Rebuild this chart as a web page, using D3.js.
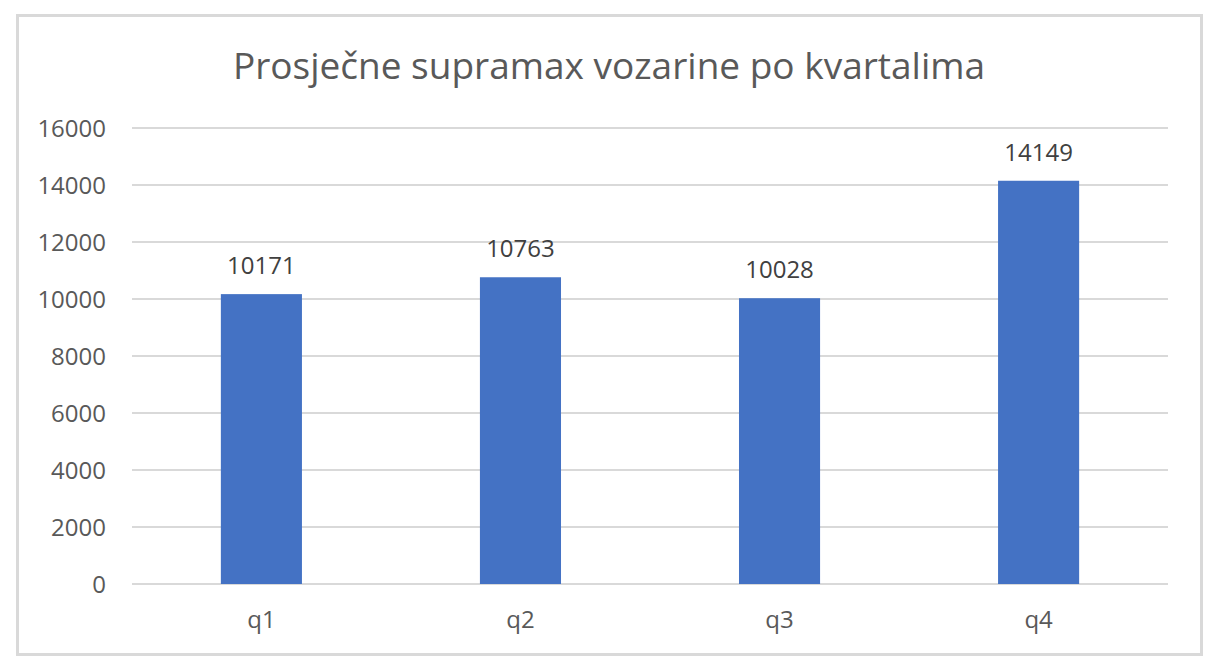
<!DOCTYPE html>
<html>
<head>
<meta charset="utf-8">
<script src="https://cdn.jsdelivr.net/npm/d3@7"></script>
<style>
  body { margin: 0; background: #fff; }
  svg text { font-family: "Open Sans", "Noto Sans", sans-serif; }
</style>
</head>
<body>
<div id="chart"></div>
<script>
'use strict'

const title = 'Prosječne supramax vozarine po kvartalima'
const categories = ['q1', 'q2', 'q3', 'q4']
const values = [10171, 10763, 10028, 14149]
const yTicks = [0, 2000, 4000, 6000, 8000, 10000, 12000, 14000, 16000]

const width = 1211
const height = 667
const plot = {left: 132, right: 1168, top: 128, bottom: 584}

const svg = d3.select('#chart').append('svg')
  .attr('width', width)
  .attr('height', height)

// outer frame
svg.append('rect')
  .attr('x', 17.5).attr('y', 15.5)
  .attr('width', 1184).attr('height', 639)
  .attr('fill', '#fff')
  .attr('stroke', '#d9d9d9')
  .attr('stroke-width', 3)

svg.append('text')
  .attr('x', 609).attr('y', 79)
  .attr('text-anchor', 'middle')
  .attr('font-size', 37)
  .attr('fill', '#595959')
  .text(title)

const x = d3.scaleBand()
  .domain(categories)
  .range([plot.left, plot.right])
  .paddingInner(0.687)
  .paddingOuter(0.343)

const y = d3.scaleLinear()
  .domain([0, 16000])
  .range([plot.bottom, plot.top])

// gridlines
svg.append('g').attr('class', 'grid')
  .selectAll('line').data(yTicks)
  .enter().append('line')
  .attr('x1', plot.left).attr('x2', plot.right)
  .attr('y1', d => y(d)).attr('y2', d => y(d))
  .attr('stroke', '#d9d9d9')
  .attr('stroke-width', 2)

// y axis labels
const yAxis = d3.axisLeft(y).tickValues(yTicks).tickFormat(d3.format('d'))
  .tickSize(0).tickPadding(0)
svg.append('g')
  .attr('transform', `translate(${plot.left - 26}, 0)`)
  .call(yAxis)
  .call(g => g.select('.domain').remove())
  .selectAll('text')
  .attr('font-size', 24)
  .attr('fill', '#595959')
  .attr('dy', '0.35em')

// bars
svg.append('g').attr('class', 'bars')
  .selectAll('rect').data(values)
  .enter().append('rect')
  .attr('x', (d, i) => x(categories[i]))
  .attr('width', x.bandwidth())
  .attr('y', d => y(d))
  .attr('height', d => y(0) - y(d))
  .attr('fill', '#4472c4')

// value labels
svg.append('g').attr('class', 'labels')
  .selectAll('text').data(values)
  .enter().append('text')
  .attr('x', (d, i) => x(categories[i]) + x.bandwidth() / 2)
  .attr('y', d => y(d) - 20)
  .attr('text-anchor', 'middle')
  .attr('font-size', 24)
  .attr('fill', '#404040')
  .text(d => d)

// x axis labels
const xAxis = d3.axisBottom(x).tickSize(0).tickPadding(0)
svg.append('g')
  .attr('transform', `translate(0, ${plot.bottom + 44})`)
  .call(xAxis)
  .call(g => g.select('.domain').remove())
  .selectAll('text')
  .attr('font-size', 24)
  .attr('fill', '#595959')
  .attr('dy', '0')
</script>
</body>
</html>
